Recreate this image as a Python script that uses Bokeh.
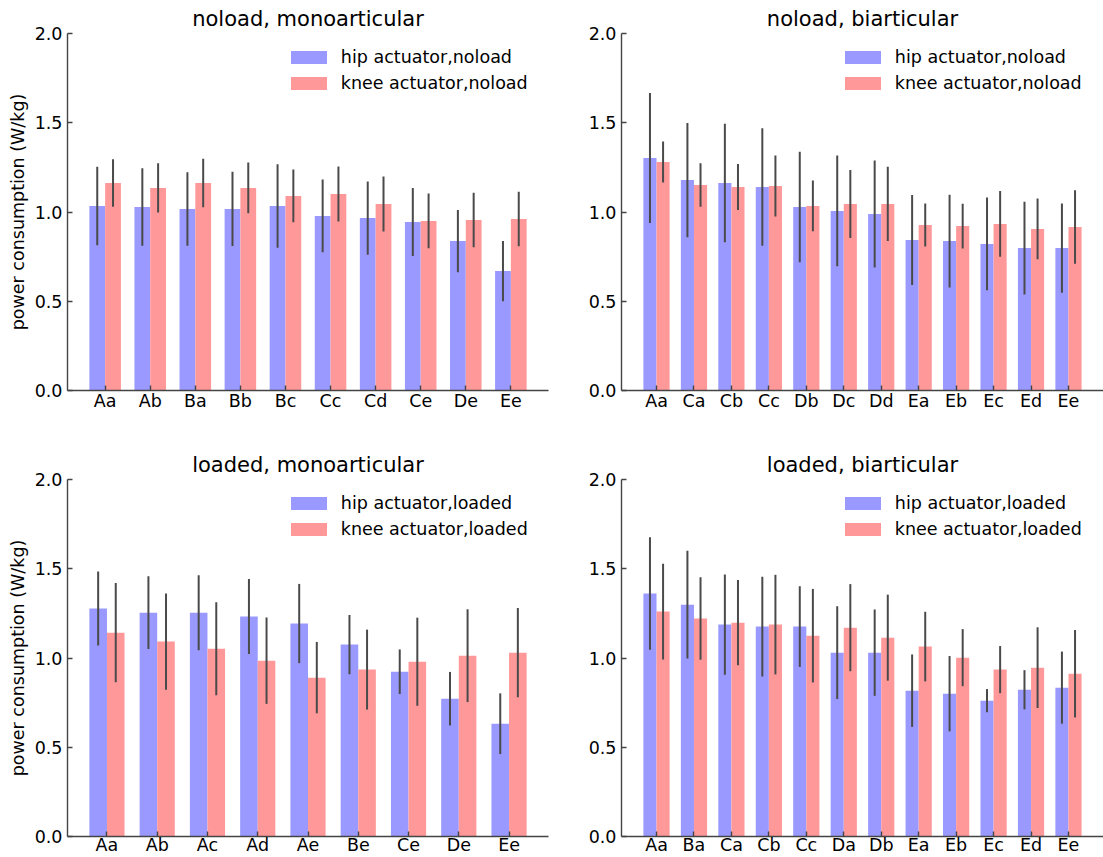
from bokeh.plotting import figure
from bokeh.models import ColumnDataSource, FactorRange, Range1d, FixedTicker, NumeralTickFormatter, Legend
from bokeh.transform import dodge
from bokeh.layouts import row, column
from bokeh.embed import file_html
from bokeh.resources import INLINE

# ---------------- data ----------------
cats_tl = ['Aa', 'Ab', 'Ba', 'Bb', 'Bc', 'Cc', 'Cd', 'Ce', 'De', 'Ee']
hip_tl = [1.034, 1.028, 1.017, 1.017, 1.034, 0.978, 0.966, 0.944, 0.837, 0.669]
hip_tl_err = [0.220, 0.217, 0.206, 0.208, 0.234, 0.204, 0.205, 0.191, 0.174, 0.169]
knee_tl = [1.163, 1.135, 1.163, 1.135, 1.090, 1.101, 1.045, 0.950, 0.955, 0.961]
knee_tl_err = [0.133, 0.138, 0.136, 0.142, 0.148, 0.154, 0.154, 0.153, 0.153, 0.153]

cats_tr = ['Aa', 'Ca', 'Cb', 'Cc', 'Db', 'Dc', 'Dd', 'Ea', 'Eb', 'Ec', 'Ed', 'Ee']
hip_tr = [1.303, 1.179, 1.163, 1.140, 1.028, 1.006, 0.989, 0.843, 0.837, 0.821, 0.798, 0.798]
hip_tr_err = [0.364, 0.320, 0.332, 0.329, 0.310, 0.310, 0.300, 0.252, 0.260, 0.260, 0.260, 0.250]
knee_tr = [1.280, 1.151, 1.140, 1.146, 1.034, 1.045, 1.045, 0.927, 0.921, 0.933, 0.905, 0.916]
knee_tr_err = [0.115, 0.122, 0.129, 0.171, 0.142, 0.190, 0.208, 0.120, 0.125, 0.184, 0.170, 0.206]

cats_bl = ['Aa', 'Ab', 'Ac', 'Ad', 'Ae', 'Be', 'Ce', 'De', 'Ee']
hip_bl = [1.277, 1.254, 1.254, 1.232, 1.193, 1.075, 0.923, 0.772, 0.632]
hip_bl_err = [0.207, 0.204, 0.210, 0.210, 0.222, 0.166, 0.125, 0.150, 0.170]
knee_bl = [1.142, 1.092, 1.052, 0.985, 0.890, 0.935, 0.979, 1.013, 1.030]
knee_bl_err = [0.278, 0.270, 0.260, 0.242, 0.200, 0.224, 0.247, 0.260, 0.250]

cats_br = ['Aa', 'Ba', 'Ca', 'Cb', 'Cc', 'Da', 'Db', 'Ea', 'Eb', 'Ec', 'Ed', 'Ee']
hip_br = [1.361, 1.299, 1.187, 1.176, 1.176, 1.030, 1.030, 0.817, 0.800, 0.761, 0.822, 0.834]
hip_br_err = [0.315, 0.302, 0.281, 0.279, 0.226, 0.260, 0.242, 0.203, 0.211, 0.065, 0.110, 0.202]
knee_br = [1.260, 1.221, 1.198, 1.187, 1.125, 1.170, 1.114, 1.064, 1.002, 0.935, 0.946, 0.912]
knee_br_err = [0.268, 0.231, 0.239, 0.279, 0.262, 0.244, 0.241, 0.195, 0.160, 0.132, 0.226, 0.245]

y_ticks = [0.0, 0.5, 1.0, 1.5, 2.0]
y_label = "power consumption (W/kg)"

# ---------------- styling ----------------
FONT = "DejaVu Sans"
FS = "17.5px"
HIP_COLOR = "#9999ff"
KNEE_COLOR = "#ff9999"
ERR_COLOR = "#4a4a4a"
AXIS_COLOR = "#444444"
BAR_W = 0.35


def make(cats, hip, hip_err, knee, knee_err, title, labels, left, top):
    n = len(cats)
    pad = BAR_W + 0.05 * (n - 1 + 2 * BAR_W) - 0.5
    xr = FactorRange(*cats, range_padding=pad, range_padding_units="absolute")
    width = 567 if left else 536
    height = 430 if top else 427
    p = figure(x_range=xr, y_range=Range1d(0, 2), width=width, height=height,
               output_backend="svg", toolbar_location=None, tools="",
               min_border_left=67 if left else 54, min_border_right=19 if left else 0,
               min_border_top=33 if top else 49, min_border_bottom=40 if top else 21)
    p.outline_line_color = None
    p.grid.visible = False
    p.background_fill_color = "white"
    p.border_fill_color = "white"

    src = ColumnDataSource(dict(
        cats=cats, hip=hip, knee=knee,
        hip_lo=[m - e for m, e in zip(hip, hip_err)], hip_hi=[m + e for m, e in zip(hip, hip_err)],
        knee_lo=[m - e for m, e in zip(knee, knee_err)], knee_hi=[m + e for m, e in zip(knee, knee_err)],
    ))
    xh = dodge('cats', -BAR_W / 2, range=xr)
    xk = dodge('cats', BAR_W / 2, range=xr)
    r1 = p.vbar(x=xh, top='hip', width=BAR_W, source=src, fill_color=HIP_COLOR, line_color=None)
    r2 = p.vbar(x=xk, top='knee', width=BAR_W, source=src, fill_color=KNEE_COLOR, line_color=None)
    p.segment(x0=xh, y0='hip_lo', x1=xh, y1='hip_hi', source=src, line_color=ERR_COLOR, line_width=2)
    p.segment(x0=xk, y0='knee_lo', x1=xk, y1='knee_hi', source=src, line_color=ERR_COLOR, line_width=2)

    legend = Legend(items=[(labels[0], [r1]), (labels[1], [r2])],
                    location=(218.8, 297.4), orientation="vertical",
                    glyph_width=45, glyph_height=16, label_standoff=10, spacing=6,
                    padding=0, margin=0, border_line_alpha=0, background_fill_alpha=0,
                    label_text_font=FONT, label_text_font_size=FS, label_text_color="black")
    p.add_layout(legend, "center")

    p.title.text = title
    p.title.align = "center"
    p.title.text_font = FONT
    p.title.text_font_size = "21px"
    p.title.text_font_style = "normal"
    p.title.text_color = "black"
    p.title.standoff = 5

    for ax in (p.xaxis[0], p.yaxis[0]):
        ax.axis_line_color = AXIS_COLOR
        ax.axis_line_width = 1.4
        ax.major_tick_line_color = AXIS_COLOR
        ax.major_tick_line_width = 1.4
        ax.major_tick_in = 5
        ax.major_tick_out = 0
        ax.minor_tick_line_color = None
        ax.major_label_text_font = FONT
        ax.major_label_text_font_size = FS
        ax.major_label_text_color = "black"
    p.xaxis[0].major_label_standoff = 0 if top else -2
    p.yaxis[0].major_label_standoff = 5
    p.yaxis[0].ticker = FixedTicker(ticks=y_ticks)
    p.yaxis[0].formatter = NumeralTickFormatter(format="0.0")
    if left:
        p.yaxis[0].axis_label = y_label
        p.yaxis[0].axis_label_text_font = FONT
        p.yaxis[0].axis_label_text_font_size = FS
        p.yaxis[0].axis_label_text_font_style = "normal"
        p.yaxis[0].axis_label_text_color = "black"
        p.yaxis[0].axis_label_standoff = 4
    return p


p1 = make(cats_tl, hip_tl, hip_tl_err, knee_tl, knee_tl_err, "noload, monoarticular",
          ("hip actuator,noload", "knee actuator,noload"), True, True)
p2 = make(cats_tr, hip_tr, hip_tr_err, knee_tr, knee_tr_err, "noload, biarticular",
          ("hip actuator,noload", "knee actuator,noload"), False, True)
p3 = make(cats_bl, hip_bl, hip_bl_err, knee_bl, knee_bl_err, "loaded, monoarticular",
          ("hip actuator,loaded", "knee actuator,loaded"), True, False)
p4 = make(cats_br, hip_br, hip_br_err, knee_br, knee_br_err, "loaded, biarticular",
          ("hip actuator,loaded", "knee actuator,loaded"), False, False)

layout = column(row(p1, p2), row(p3, p4))
open("out.html", "w").write(file_html(layout, INLINE))
